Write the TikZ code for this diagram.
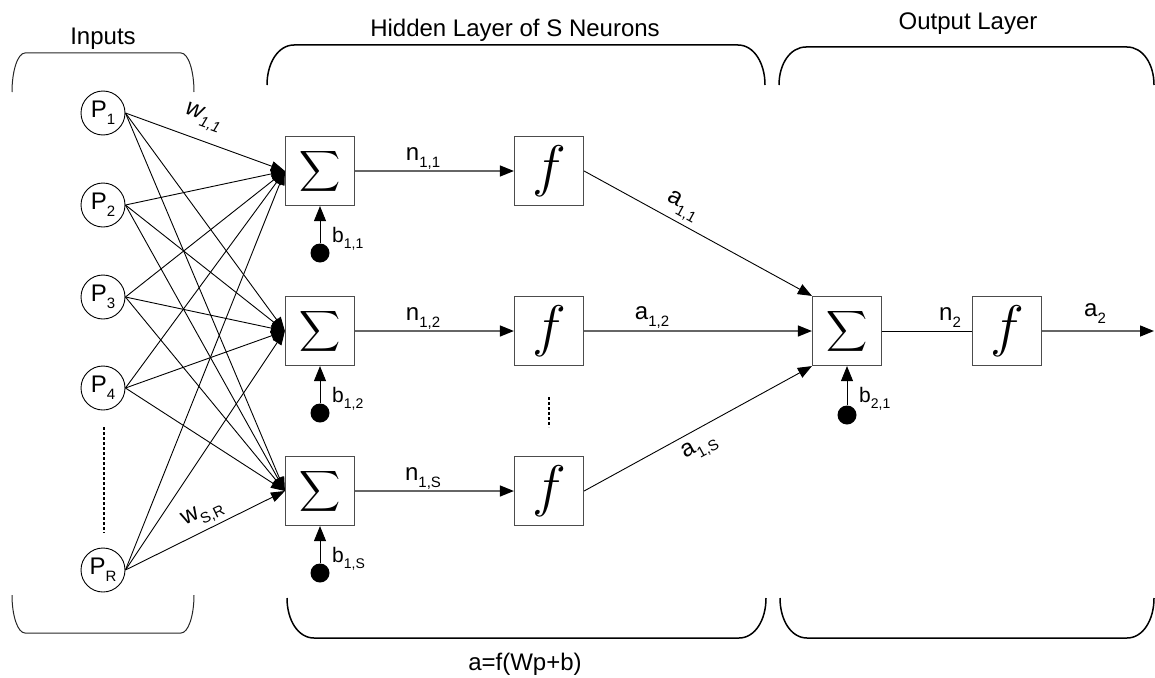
\documentclass[tikz,border=0pt]{standalone}
\usepackage{fontspec}
\setmainfont{Liberation Sans}
\usetikzlibrary{arrows.meta}
\newcommand\sbs[1]{\raisebox{-7pt}{\fontsize{15}{15}\selectfont #1}}
\newcommand\sbb[1]{\raisebox{-6pt}{\fontsize{14}{14}\selectfont #1}}
\newcommand\bigsum{\scalebox{2.85}{$\displaystyle\sum$}}
\newcommand\bigf{\scalebox{2.3}{$f$}}
\begin{document}
\begin{tikzpicture}[x=1pt,y=-1pt,font=\fontsize{24}{28}\selectfont,
  inp/.style={circle,draw,minimum size=44pt,inner sep=0pt,line width=0.9pt},
  sbox/.style={draw=black!70,line width=1.2pt,minimum size=69pt,inner sep=0pt},
  wline/.style={-{Triangle[length=14pt,width=10pt]},line width=0.9pt},
  hline/.style={draw=black!60,line width=1.4pt,-{Triangle[length=14pt,width=11pt,color=black]}},
  tline/.style={line width=0.9pt,-{Triangle[length=14pt,width=11pt]}},
  bias/.style={circle,fill,inner sep=0pt,minimum size=19pt},
  barr/.style={line width=0.9pt,-{Triangle[length=15pt,width=12pt]}},
  brk/.style={line width=1.5pt},
  dotl/.style={line width=2.5pt,dash pattern=on 2.5pt off 2.5pt},
  lbl/.style={inner sep=0pt,anchor=base},
  blbl/.style={inner sep=0pt,anchor=base west,font=\fontsize{21}{24}\selectfont}]
\useasboundingbox (0,0) rectangle (1155,677);
% brackets
\draw[line width=1pt,black!85] (12,92) .. controls (12,70.5) and (17.8,53) .. (25,53) -- (181,53) .. controls (188.2,53) and (194,70.5) .. (194,92);
\draw[line width=1pt,black!85] (12,595) .. controls (12,616) and (17.8,633) .. (25,633) -- (181,633) .. controls (188.2,633) and (194,616) .. (194,595);
\draw[brk] (267,85) .. controls (267,62.9) and (278.2,45) .. (294,45) -- (738,45) .. controls (753.8,45) and (765,62.9) .. (765,85);
\draw[brk] (779,85) .. controls (779,64) and (790.2,47) .. (806,47) -- (1127,47) .. controls (1142.8,47) and (1154,64) .. (1154,85);
\draw[brk] (287,598) .. controls (287,620) and (298,638) .. (314,638) -- (739,638) .. controls (755,638) and (766,620) .. (766,598);
\draw[brk] (780,598) .. controls (780,620) and (791,638) .. (807,638) -- (1127,638) .. controls (1143,638) and (1154,620) .. (1154,598);
% titles
\node[lbl] (tIn) at (103,45) {Inputs};
\node[lbl] (tHid) at (515,37) {Hidden Layer of S Neurons};
\node[lbl] (tOut) at (968,30) {Output Layer};
\node[lbl] (tEq) at (525,670) {a=f(Wp+b)};
% inputs
\node[inp] (P1) at (103,113) {P\sbs{1}};
\node[inp] (P2) at (103,205) {P\sbs{2}};
\node[inp] (P3) at (103,297) {P\sbs{3}};
\node[inp] (P4) at (103,388) {P\sbs{4}};
\node[inp] (PR) at (103,570) {P\sbs{R}};
\coordinate (d1a) at (104,427);
\coordinate (d1b) at (104,533);
\draw[dotl] (d1a) -- (d1b);
% hidden layer
\node[sbox] (S1) at (320,171) {\bigsum};
\node[sbox] (S2) at (320,331) {\bigsum};
\node[sbox] (S3) at (320,491) {\bigsum};
\node[sbox] (F1) at (549,171) {\bigf};
\node[sbox] (F2) at (549,331) {\bigf};
\node[sbox] (F3) at (549,491) {\bigf};
\coordinate (d2a) at (549,397);
\coordinate (d2b) at (549,427);
\draw[dotl] (d2a) -- (d2b);
% weights
\foreach \p in {P1,P2,P3,P4,PR}
  \foreach \s in {S1,S2,S3}
    \draw[wline] (\p.east) -- (\s.west);
\node[inner sep=0pt,rotate=-20,font=\fontsize{24}{28}\selectfont\itshape] (w11) at (203,118) {w\sbs{1,1}};
\node[inner sep=0pt,rotate=26] (wSR) at (203,515) {w\sbs{S,R}};
% biases
\node[bias] (B11) at (320,253) {};
\node[bias] (B12) at (320,413) {};
\node[bias] (B1S) at (320,573) {};
\draw[barr] (B11) -- (S1.south);
\draw[barr] (B12) -- (S2.south);
\draw[barr] (B1S) -- (S3.south);
\node[blbl] (lb11) at (332,242) {b\sbb{1,1}};
\node[blbl] (lb12) at (332,402) {b\sbb{1,2}};
\node[blbl] (lb1S) at (332,562) {b\sbb{1,S}};
% n lines
\draw[hline] (S1) -- (F1);
\draw[hline] (S2) -- (F2);
\draw[hline] (S3) -- (F3);
\node[lbl] (ln11) at (423,160) {n\sbs{1,1}};
\node[lbl] (ln12) at (423,320) {n\sbs{1,2}};
\node[lbl] (ln1S) at (423,480) {n\sbs{1,S}};
% output layer
\node[sbox] (O) at (847,331) {\bigsum};
\node[sbox] (G) at (1007,331) {\bigf};
\coordinate (end) at (1154,331);
\draw[tline] (F1.east) -- (O.north west);
\draw[hline] (F2.east) -- (O.west);
\draw[tline] (F3.east) -- (O.south west);
\node[inner sep=0pt,rotate=-28.6] (la11) at (682,207) {a\sbs{1,1}};
\node[lbl] (la12) at (652,319) {a\sbs{1,2}};
\node[inner sep=0pt,rotate=28.6] (la1S) at (700,448) {a\sbs{1,S}};
\node[bias] (B21) at (847,415) {};
\draw[barr] (B21) -- (O.south);
\node[blbl] (lb21) at (859,402) {b\sbb{2,1}};
\draw[line width=0.9pt] (O) -- (G);
\draw[hline] (G) -- (end);
\node[lbl] (ln2) at (950,320) {n\sbs{2}};
\node[lbl] (la2) at (1095,316) {a\sbs{2}};
\end{tikzpicture}
\end{document}
